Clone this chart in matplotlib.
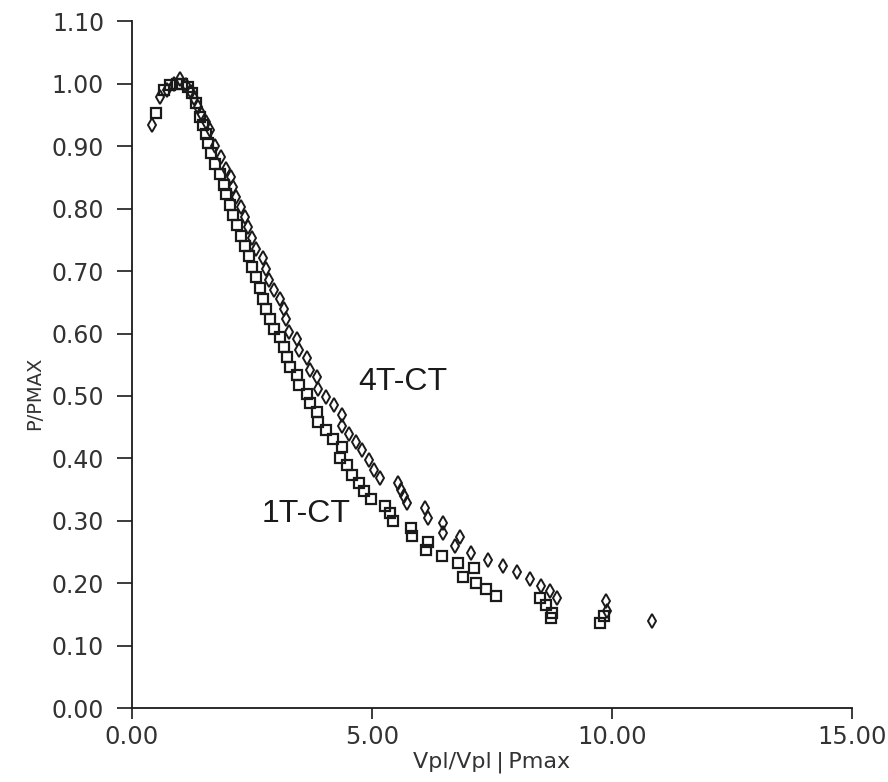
import numpy as np
import matplotlib
matplotlib.use("Agg")
import matplotlib.pyplot as plt

# 1T-CT (squares)
x_1t = [0.50, 0.67, 0.80, 0.93, 1.05, 1.16, 1.26, 1.33, 1.41, 1.47, 1.54, 1.58, 1.64, 1.73,
        1.83, 1.92, 1.96, 2.04, 2.10, 2.19, 2.27, 2.36, 2.44, 2.50, 2.59, 2.67, 2.74, 2.80,
        2.88, 2.95, 3.09, 3.16, 3.22, 3.30, 3.43, 3.49, 3.64, 3.70, 3.85, 3.87, 4.04, 4.19,
        4.38, 4.34, 4.48, 4.59, 4.74, 4.84, 4.97, 5.28, 5.37, 5.43, 5.81, 5.83, 6.17, 6.12,
        6.46, 6.80, 7.12, 6.90, 7.16, 7.37, 7.58, 8.50, 8.62, 8.76, 8.74, 9.83, 9.75]
y_1t = [0.953, 0.990, 0.998, 1.000, 1.000, 0.995, 0.985, 0.970, 0.947, 0.934, 0.920, 0.905,
        0.890, 0.872, 0.856, 0.838, 0.824, 0.806, 0.790, 0.774, 0.756, 0.740, 0.724, 0.706,
        0.690, 0.673, 0.656, 0.640, 0.624, 0.608, 0.595, 0.579, 0.563, 0.547, 0.534, 0.518,
        0.503, 0.489, 0.474, 0.458, 0.445, 0.431, 0.418, 0.400, 0.389, 0.374, 0.361, 0.348,
        0.335, 0.324, 0.313, 0.300, 0.289, 0.276, 0.266, 0.253, 0.243, 0.232, 0.224, 0.210,
        0.200, 0.190, 0.179, 0.176, 0.165, 0.153, 0.144, 0.147, 0.137]

# 4T-CT (diamonds)
x_4t = [0.42, 0.59, 0.74, 0.88, 1.01, 1.12, 1.22, 1.30, 1.37, 1.43, 1.54, 1.62, 1.73, 1.85,
        1.96, 2.06, 2.10, 2.17, 2.27, 2.36, 2.42, 2.50, 2.59, 2.74, 2.80, 2.86, 2.95, 3.09,
        3.16, 3.20, 3.28, 3.43, 3.49, 3.64, 3.70, 3.85, 3.87, 4.04, 4.21, 4.38, 4.38, 4.53,
        4.67, 4.80, 4.93, 5.05, 5.16, 5.54, 5.60, 5.66, 5.73, 6.10, 6.17, 6.48, 6.48, 6.84,
        6.74, 7.07, 7.41, 7.72, 8.03, 8.29, 8.53, 8.71, 8.86, 9.87, 9.89, 10.84]
y_4t = [0.934, 0.979, 0.990, 1.000, 1.008, 0.998, 0.987, 0.977, 0.963, 0.953, 0.939, 0.926,
        0.900, 0.882, 0.864, 0.850, 0.834, 0.818, 0.803, 0.787, 0.771, 0.753, 0.735, 0.721,
        0.703, 0.685, 0.669, 0.655, 0.639, 0.623, 0.603, 0.592, 0.574, 0.560, 0.542, 0.531,
        0.511, 0.498, 0.485, 0.469, 0.452, 0.439, 0.426, 0.413, 0.398, 0.382, 0.368, 0.361,
        0.350, 0.340, 0.329, 0.321, 0.305, 0.297, 0.281, 0.274, 0.260, 0.248, 0.237, 0.227,
        0.218, 0.206, 0.196, 0.187, 0.176, 0.171, 0.156, 0.140]

xticks = [0, 5, 10, 15]
yticks = np.round(np.arange(0, 1.11, 0.1), 2)

ink = "#1a1a1a"
fig = plt.figure(figsize=(8.88, 7.82), dpi=100)
ax = fig.add_axes([0.1486, 0.0946, 0.8108, 0.878])

ax.plot(x_1t, y_1t, "s", ms=6.5, mfc="none", mec=ink, mew=1.6, linestyle="none")
ax.plot(x_4t, y_4t, "d", ms=7, mfc="none", mec=ink, mew=1.4, linestyle="none")

ax.text(5.64, 0.523, "4T-CT", fontsize=23, ha="center", va="center", color=ink,
        family="Liberation Sans")
ax.text(3.62, 0.311, "1T-CT", fontsize=23, ha="center", va="center", color=ink,
        family="Liberation Sans")

ax.set_xlim(0, 15)
ax.set_ylim(0, 1.10)
ax.set_xticks(xticks)
ax.set_xticklabels(["%.2f" % v for v in xticks])
ax.set_yticks(yticks)
ax.set_yticklabels(["%.2f" % v for v in yticks])
ax.tick_params(axis="y", direction="out", length=11, width=1.2, color=ink,
               labelsize=17, labelcolor="#333333", pad=9)
ax.tick_params(axis="x", direction="out", length=8, width=1.2, color=ink,
               labelsize=17.5, labelcolor="#333333", pad=4)
for s in ["top", "right"]:
    ax.spines[s].set_visible(False)
for s in ["left", "bottom"]:
    ax.spines[s].set_color(ink)
    ax.spines[s].set_linewidth(1.3)

ax.set_xlabel("Vpl/Vpl\u2009|\u2009Pmax", fontsize=16, color="#333333")
ax.xaxis.set_label_coords(0.5, -0.064)
ax.set_ylabel("P/PMAX", fontsize=14, color="#333333")
ax.yaxis.set_label_coords(-0.122, 0.458)

fig.savefig("out.png", dpi=100)
